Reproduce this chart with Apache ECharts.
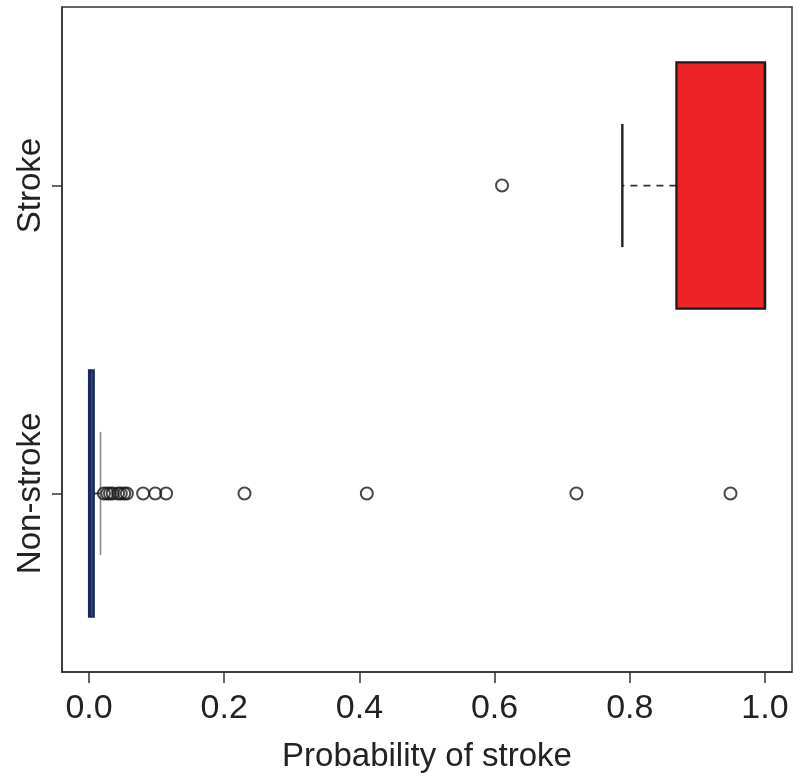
<!DOCTYPE html>
<html>
<head>
<meta charset="utf-8">
<script src="https://cdn.jsdelivr.net/npm/echarts@6/dist/echarts.min.js"></script>
<style>
html,body{margin:0;padding:0;background:#fff;}
#chart{width:800px;height:781px;}
</style>
</head>
<body>
<div id="chart"></div>
<script>
// ---- data ----
var categories = ['Non-stroke', 'Stroke'];
var whiskerLow  = [0.000, 0.789];
var q1          = [0.000, 0.869];
var median      = [0.001, 1.000];
var q3          = [0.007, 1.000];
var whiskerHigh = [0.017, 1.000];
var nonStrokeOutliers = [0.022, 0.027, 0.031, 0.035, 0.043, 0.047, 0.052, 0.056, 0.080, 0.098, 0.114, 0.230, 0.411, 0.721, 0.949];
var strokeOutliers = [0.611];
var xTicks = [0.0, 0.2, 0.4, 0.6, 0.8, 1.0];
var xAxisTitle = 'Probability of stroke';

// ---- styles ----
var boxFill = ['#2b3f8f', '#ec2227'];
var boxEdge = ['#1c275e', '#1a1a1a'];
var capColor = ['#8a8a8a', '#222222'];
var FONT = 'Liberation Sans, Arial, sans-serif';

var boxData = categories.map(function (c, i) {
  return [i + 1, whiskerLow[i], q1[i], median[i], q3[i], whiskerHigh[i]];
});
var outlierData = [];
nonStrokeOutliers.forEach(function (v) { outlierData.push([v, 1]); });
strokeOutliers.forEach(function (v) { outlierData.push([v, 2]); });

function renderBox(params, api) {
  var i = params.dataIndex;
  var pos = api.value(0), wl = api.value(1), lq = api.value(2), md = api.value(3), uq = api.value(4), wh = api.value(5);
  var c = function (x, y) { return api.coord([x, y]); };
  var hw = 0.4, cw = 0.2;
  var ch = [];
  function whisker(from, to) {
    var a = c(from, pos), b = c(to, pos);
    ch.push({type: 'line', shape: {x1: a[0], y1: a[1], x2: b[0], y2: b[1]},
      style: {stroke: '#333', lineWidth: 1.8, lineDash: [7, 6]}});
    var t = c(to, pos + cw), u = c(to, pos - cw);
    ch.push({type: 'line', shape: {x1: t[0], y1: t[1], x2: u[0], y2: u[1]},
      style: {stroke: capColor[i], lineWidth: i === 1 ? 2.4 : 1.6}});
  }
  if (lq > wl) whisker(lq, wl);
  if (wh > uq) whisker(uq, wh);
  var p1 = c(lq, pos + hw), p2 = c(uq, pos - hw);
  ch.push({type: 'rect', shape: {x: p1[0], y: p1[1], width: Math.max(p2[0] - p1[0], 1), height: p2[1] - p1[1]},
    style: {fill: boxFill[i], stroke: boxEdge[i], lineWidth: 2.2}});
  var m1 = c(md, pos + hw), m2 = c(md, pos - hw);
  ch.push({type: 'line', shape: {x1: m1[0], y1: m1[1], x2: m2[0], y2: m2[1]},
    style: {stroke: boxEdge[i], lineWidth: 2.5}});
  return {type: 'group', children: ch};
}

var chart = echarts.init(document.getElementById('chart'));
chart.setOption({
  animation: false,
  backgroundColor: '#fff',
  grid: {left: 62, right: 8, top: 7, bottom: 109, show: true, borderColor: '#333', borderWidth: 1.5,
         containLabel: false, outerBoundsMode: 'none'},
  xAxis: {
    type: 'value', min: -0.04, max: 1.04,
    name: xAxisTitle, nameLocation: 'middle', nameGap: 68,
    nameTextStyle: {fontFamily: FONT, fontSize: 33, color: '#222'},
    axisLine: {show: true, onZero: false, lineStyle: {color: '#333', width: 1.5}},
    axisTick: {show: true, length: 11, customValues: xTicks, lineStyle: {color: '#333', width: 1.5}},
    axisLabel: {customValues: xTicks, margin: 20, fontFamily: FONT, fontSize: 34, color: '#222',
      formatter: function (v) { return v.toFixed(1); }},
    splitLine: {show: false}
  },
  yAxis: {
    type: 'value', min: 0.42, max: 2.58,
    axisLine: {show: true, onZero: false, lineStyle: {color: '#333', width: 1.5}},
    axisTick: {show: true, length: 10, customValues: [1, 2], lineStyle: {color: '#333', width: 1.5}},
    axisLabel: {customValues: [1, 2], rotate: 90, margin: 15, fontFamily: FONT, fontSize: 33, color: '#222',
      formatter: function (v) { return categories[Math.round(v) - 1]; }},
    splitLine: {show: false}
  },
  series: [
    {
      type: 'custom', renderItem: renderBox, data: boxData,
      encode: {x: [1, 2, 3, 4, 5], y: 0}, z: 2
    },
    {
      type: 'scatter', data: outlierData, symbol: 'circle', symbolSize: 12, z: 3,
      itemStyle: {color: 'rgba(255,255,255,0)', borderColor: '#1a1a1a', borderWidth: 2}
    }
  ]
});
</script>
</body>
</html>
